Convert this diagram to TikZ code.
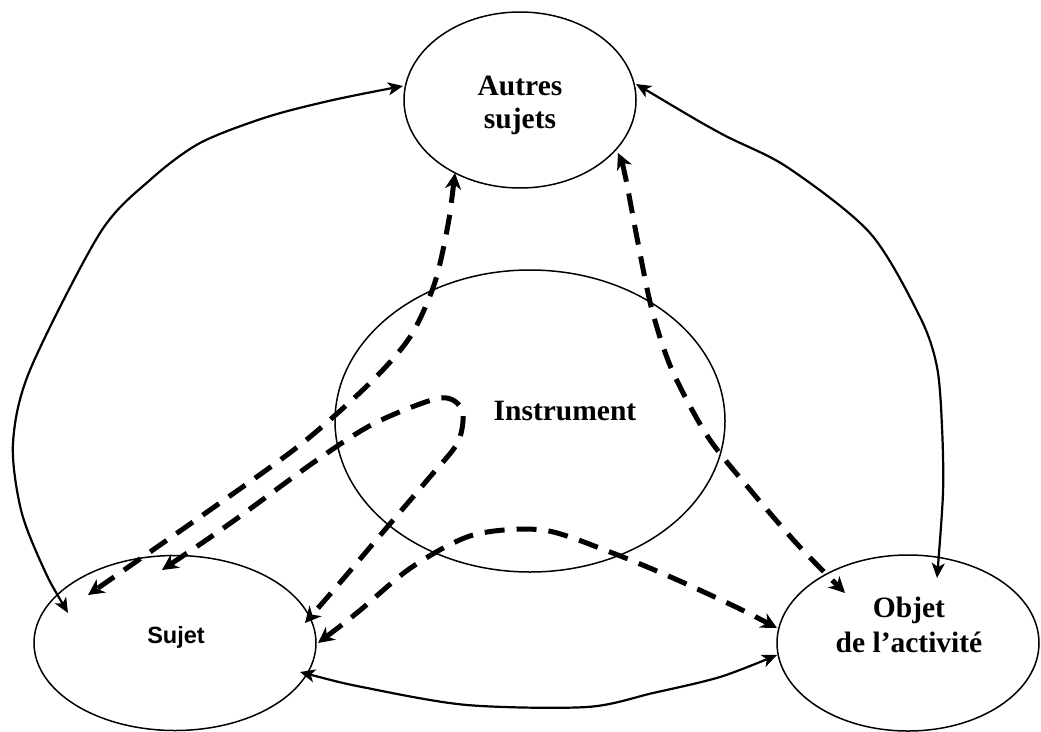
\documentclass[tikz,border=0pt]{standalone}
\usepackage{fontspec}
\setmainfont{Liberation Serif}
\newfontfamily\arialfont{Liberation Sans}
\usetikzlibrary{arrows.meta,shapes.geometric}
\begin{document}
\begin{tikzpicture}[x=1pt,y=-1pt,
  ell/.style={draw, ellipse, line width=1.5pt, inner sep=0pt},
  lab/.style={font=\fontsize{29.5}{33}\selectfont\bfseries, align=center, inner sep=0pt},
  solidarrow/.style={line width=2.2pt, {Stealth[length=15pt,width=13pt,inset=4pt]}-{Stealth[length=15pt,width=13pt,inset=4pt]}},
  dasharrow/.style={line width=5pt, dash pattern=on 20pt off 12pt, {Stealth[length=16pt,width=16pt,inset=5pt]}-{Stealth[length=16pt,width=16pt,inset=5pt]}}
]
\useasboundingbox (0,0) rectangle (1041,731);

% ellipses
\node[ell, minimum width=232pt, minimum height=176pt] (as) at (520,100) {};
\node[ell, minimum width=390pt, minimum height=302pt] (ins) at (530,421) {};
\node[ell, minimum width=282pt, minimum height=175pt] (su) at (175,643) {};
\node[ell, minimum width=262pt, minimum height=176pt] (ob) at (908,643) {};

% labels
\node[lab] (tas) at (520,105) {Autres\\sujets};
\node[lab] (tins) at (565,411) {Instrument};
\node[lab, font=\fontsize{29.5}{35}\selectfont\bfseries] (tob) at (909,625) {Objet\\de l’activité};
\node[inner sep=0pt, font=\arialfont\fontsize{23.5}{28}\selectfont\bfseries] (tsu) at (176,637) {Sujet};

% connector end points
\coordinate (c1a) at (68,613);  \coordinate (c1b) at (403,86);
\coordinate (c2a) at (636,84);  \coordinate (c2b) at (937,578);
\coordinate (c3a) at (300,672); \coordinate (c3b) at (777,655);
\coordinate (c4a) at (455,173); \coordinate (c4b) at (88,595);
\coordinate (c5a) at (162,570); \coordinate (c5b) at (305,623);
\coordinate (c6a) at (318,643); \coordinate (c6b) at (777,628);
\coordinate (c7a) at (618,153); \coordinate (c7b) at (845,593);

% solid connectors
\draw[solidarrow] plot[smooth] coordinates {(c1a) (43,567) (21,510) (13,443) (30,370) (100,233) (150,180) (200,143) (267,117) (333,100) (c1b)};
\draw[solidarrow] plot[smooth] coordinates {(c2a) (720,133) (787,167) (870,233) (920,317) (937,367) (942,427) (943,493) (c2b)};
\draw[solidarrow] plot[smooth] coordinates {(c3a) (367,688) (467,705) (587,707) (653,693) (720,677) (c3b)};

% dashed connectors
\draw[dasharrow] plot[smooth] coordinates {(c4a) (447,230) (434,285) (410,337) (370,383) (300,445) (200,517) (c4b)};
\draw[dasharrow] plot[smooth] coordinates {(c5a) (232,522) (317,460) (375,423) (440,398) (462,410) (458,442) (429,478) (383,532) (338,585) (c5b)};
\draw[dasharrow] plot[smooth] coordinates {(c6a) (358,612) (412,567) (473,535) (543,530) (610,552) (673,578) (738,608) (c6b)};
\draw[dasharrow] plot[smooth] coordinates {(c7a) (625,175) (638,243) (652,310) (672,370) (708,437) (752,492) (798,545) (c7b)};
\end{tikzpicture}
\end{document}
